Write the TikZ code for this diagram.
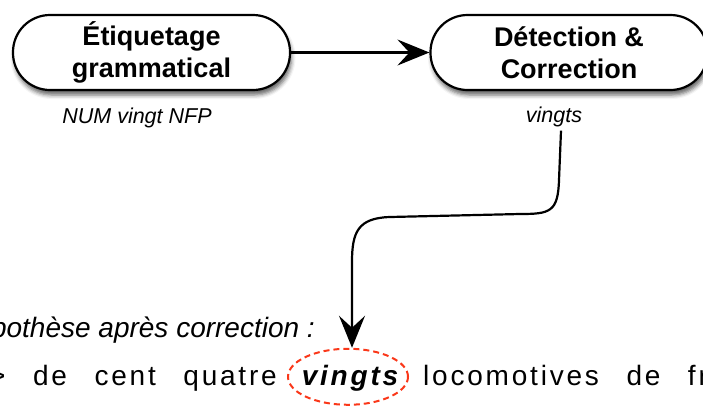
\documentclass[tikz,border=0pt]{standalone}
\usepackage{fontspec}
\setmainfont{Liberation Sans}
\newfontfamily\spacedfont{Liberation Sans}[LetterSpace=10,WordSpace=2.6]
\usetikzlibrary{arrows.meta}
\usetikzlibrary{shapes.geometric}
\usetikzlibrary{shadows.blur}
\definecolor{markred}{RGB}{250,55,25}

\begin{document}
\begin{tikzpicture}[x=1pt, y=-1pt, every node/.style={inner sep=0pt},
    stagebox/.style={draw, line width=2.2pt, rounded corners=37pt, fill=white,
      minimum width=277pt, minimum height=75pt, align=center,
      font=\fontsize{27}{32}\selectfont\bfseries,
      blur shadow={shadow xshift=1.5pt, shadow yshift=-5pt, shadow blur radius=4pt, shadow opacity=60}},
    tagnote/.style={font=\fontsize{21.5}{24}\selectfont\itshape},
    bigarrow/.style={-{Stealth[length=32pt, width=26pt, inset=12pt]}, line width=2.2pt},
    markdash/.style={draw=markred, line width=2pt, dash pattern=on 6pt off 4pt}]

    \useasboundingbox (0,0) rectangle (703,405);

    % Two processing stages
    \node[stagebox] (tagger) at (151.5,52.5) {Étiquetage\\grammatical};
    \node[stagebox] (corrector) at (569,52.5) {Détection \&\\Correction};
    \draw[bigarrow] (tagger.east) -- (corrector.west);

    % Outputs under the stages
    \node[tagnote, anchor=base] (tagout) at (137,123) {NUM vingt NFP};
    \node[tagnote, anchor=base] (corrout) at (554,122) {vingts};

    % Hypothesis after correction
    \node[font=\fontsize{28}{30}\selectfont\itshape, anchor=base east] (hyptitle) at (315,337) {Hypothèse après correction :};
    \node[font=\fontsize{28}{30}\selectfont\spacedfont, anchor=base east] (hypleft) at (277,385) {=> de cent quatre};
    \node[font=\fontsize{28}{30}\selectfont\spacedfont\bfseries\itshape, anchor=base] (hypword) at (350,385) {vingts};
    \node[font=\fontsize{28}{30}\selectfont\spacedfont, anchor=base west] (hypright) at (423,385) {locomotives de fr};

    % Dashed red mark around the corrected word
    \node[markdash, ellipse, minimum width=120pt, minimum height=56pt] (wordmark) at ([xshift=-2pt,yshift=1pt]hypword.center) {};

    % Curved arrow from the correction to the word
    \draw[bigarrow] ([xshift=7pt,yshift=-4pt]corrout.south) -- (559,180)
      .. controls (558,212) and (550,214) .. (520,214) -- (390,217)
      .. controls (358,218) and (352,232) .. (352,262) -- ([xshift=4pt]wordmark.north);

\end{tikzpicture}
\end{document}
